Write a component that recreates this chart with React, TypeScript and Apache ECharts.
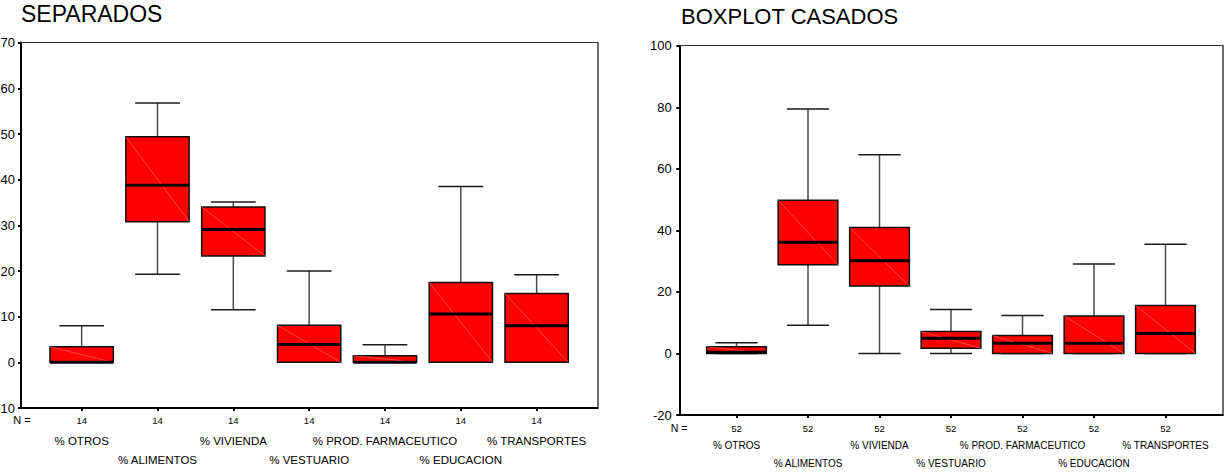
import { useEffect, useRef } from 'react';
import * as echarts from 'echarts';

// Expense categories shown on both box plots
const categories = [
  '% OTROS',
  '% ALIMENTOS',
  '% VIVIENDA',
  '% VESTUARIO',
  '% PROD. FARMACEUTICO',
  '% EDUCACION',
  '% TRANSPORTES',
];

// Group sizes (N) per category
const countsSeparados = [14, 14, 14, 14, 14, 14, 14];
const countsCasados = [52, 52, 52, 52, 52, 52, 52];

// SEPARADOS: five-number summaries
const sepMin = [0, 19.3, 11.5, 0, 0, 0, 0];
const sepQ1 = [0, 30.8, 23.3, 0, 0, 0, 0];
const sepMedian = [0, 38.8, 29.1, 3.9, 0, 10.6, 8.0];
const sepQ3 = [3.4, 49.4, 34.0, 8.1, 1.45, 17.5, 15.1];
const sepMax = [8.0, 56.8, 35.1, 20.0, 3.85, 38.5, 19.2];

// CASADOS: five-number summaries
const casMin = [0, 9.2, 0, 0, 0, 0, 0];
const casQ1 = [0, 28.8, 21.9, 1.7, 0, 0, 0];
const casMedian = [0.4, 36.1, 30.1, 4.9, 3.3, 3.3, 6.5];
const casQ3 = [2.2, 49.8, 40.9, 7.1, 5.8, 12.2, 15.6];
const casMax = [3.5, 79.4, 64.6, 14.3, 12.3, 29.1, 35.5];

// Value-axis tick settings
const sepYMin = -10;
const sepYMax = 70;
const sepYStep = 10;
const casYMin = -20;
const casYMax = 100;
const casYStep = 20;

const X_MIN = -0.8;
const X_MAX = 6.8;
const BOX_WIDTH = 0.835;
const CAP_WIDTH = 0.59;
const FONT = '"Liberation Sans", Arial, sans-serif';

const indices = categories.map((_, i) => i);
const evenIdx = indices.filter((i) => i % 2 === 0);
const oddIdx = indices.filter((i) => i % 2 === 1);

function boxData(mins: number[], q1s: number[], meds: number[], q3s: number[], maxs: number[]) {
  return categories.map((_, i) => [i, mins[i], q1s[i], meds[i], q3s[i], maxs[i]]);
}

function renderBox(_params: any, api: any) {
  const x = api.value(0);
  const lo = api.coord([x, api.value(1)]);
  const q1 = api.coord([x, api.value(2)]);
  const med = api.coord([x, api.value(3)]);
  const q3 = api.coord([x, api.value(4)]);
  const hi = api.coord([x, api.value(5)]);
  const cx = lo[0];
  const hb = api.size([BOX_WIDTH, 0])[0] / 2;
  const hc = api.size([CAP_WIDTH, 0])[0] / 2;
  const whisker = { stroke: '#4a4a4a', lineWidth: 1.5 };
  const cap = { stroke: '#1a1a1a', lineWidth: 1.5 };
  return {
    type: 'group',
    children: [
      { type: 'line', shape: { x1: cx, y1: hi[1], x2: cx, y2: q3[1] }, style: whisker },
      { type: 'line', shape: { x1: cx, y1: lo[1], x2: cx, y2: q1[1] }, style: whisker },
      { type: 'line', shape: { x1: cx - hc, y1: hi[1], x2: cx + hc, y2: hi[1] }, style: cap },
      { type: 'line', shape: { x1: cx - hc, y1: lo[1], x2: cx + hc, y2: lo[1] }, style: cap },
      {
        type: 'rect',
        shape: { x: cx - hb, y: q3[1], width: hb * 2, height: q1[1] - q3[1] },
        style: { fill: '#ff0000', stroke: '#111111', lineWidth: 1.5 },
      },
      {
        type: 'line',
        shape: { x1: cx - hb, y1: q3[1], x2: cx + hb, y2: q1[1] },
        style: { stroke: 'rgba(255,160,160,0.75)', lineWidth: 0.6 },
      },
      {
        type: 'line',
        shape: { x1: cx - hb, y1: med[1], x2: cx + hb, y2: med[1] },
        style: { stroke: '#000000', lineWidth: 3 },
      },
    ],
  };
}

function xAxesFor(
  gridIndex: number,
  counts: number[],
  nMargin: number,
  row1Margin: number,
  row2Margin: number,
  catSize: number,
) {
  const base = {
    gridIndex,
    type: 'value',
    min: X_MIN,
    max: X_MAX,
    splitLine: { show: false },
  };
  return [
    {
      ...base,
      position: 'bottom',
      axisLine: { show: true, onZero: false, lineStyle: { color: '#000', width: 2 } },
      axisTick: { show: true, customValues: indices, length: 3, lineStyle: { color: '#000', width: 2 } },
      axisLabel: {
        customValues: indices,
        formatter: (v: number) => String(counts[Math.round(v)]),
        margin: nMargin,
        fontSize: 9.5,
        color: '#000',
        fontFamily: FONT,
      },
    },
    {
      ...base,
      position: 'bottom',
      axisLine: { show: false, onZero: false },
      axisTick: { show: false },
      axisLabel: {
        customValues: evenIdx,
        formatter: (v: number) => categories[Math.round(v)],
        margin: row1Margin,
        fontSize: catSize,
        color: '#000',
        fontFamily: FONT,
      },
    },
    {
      ...base,
      position: 'bottom',
      axisLine: { show: false, onZero: false },
      axisTick: { show: false },
      axisLabel: {
        customValues: oddIdx,
        formatter: (v: number) => categories[Math.round(v)],
        margin: row2Margin,
        fontSize: catSize,
        color: '#000',
        fontFamily: FONT,
      },
    },
    {
      ...base,
      position: 'top',
      axisLine: { show: true, onZero: false, lineStyle: { color: '#333', width: 1 } },
      axisTick: { show: false },
      axisLabel: { show: false },
    },
  ];
}

function yAxesFor(gridIndex: number, min: number, max: number, interval: number, margin: number) {
  return [
    {
      gridIndex,
      type: 'value',
      min,
      max,
      interval,
      position: 'left',
      axisLine: { show: true, onZero: false, lineStyle: { color: '#000', width: 2 } },
      axisTick: { show: true, length: 3, lineStyle: { color: '#000', width: 2 } },
      axisLabel: { margin, fontSize: 13, color: '#000', fontFamily: FONT },
      splitLine: { show: false },
    },
    {
      gridIndex,
      type: 'value',
      min,
      max,
      interval,
      position: 'right',
      axisLine: { show: true, onZero: false, lineStyle: { color: '#6e6e6e', width: 2 } },
      axisTick: { show: false },
      axisLabel: { show: false },
      splitLine: { show: false },
    },
  ];
}

export default function App() {
  const ref = useRef<HTMLDivElement>(null);

  useEffect(() => {
    if (!ref.current) return;
    const chart = echarts.init(ref.current, undefined, { renderer: 'svg' });
    chart.setOption({
      animation: false,
      backgroundColor: '#ffffff',
      grid: [
        { left: 21, top: 42.7, width: 576.3, height: 365.3, containLabel: false, outerBoundsMode: 'none' },
        { left: 679.3, top: 45.7, width: 543.4, height: 369.3, containLabel: false, outerBoundsMode: 'none' },
      ],
      xAxis: [
        ...xAxesFor(0, countsSeparados, 7, 27, 46, 11.5),
        ...xAxesFor(1, countsCasados, 8, 25.5, 43, 10),
      ],
      yAxis: [
        ...yAxesFor(0, sepYMin, sepYMax, sepYStep, 6),
        ...yAxesFor(1, casYMin, casYMax, casYStep, 7.5),
      ],
      graphic: [
        {
          type: 'text',
          x: 21,
          y: 13.5,
          style: { text: 'SEPARADOS', font: `23px ${FONT}`, fill: '#000', verticalAlign: 'middle' },
        },
        {
          type: 'text',
          x: 681,
          y: 16.5,
          style: { text: 'BOXPLOT CASADOS', font: `22px ${FONT}`, fill: '#000', verticalAlign: 'middle' },
        },
        {
          type: 'text',
          x: 22,
          y: 420,
          style: { text: 'N =', font: `11px ${FONT}`, fill: '#000', align: 'center', verticalAlign: 'middle' },
        },
        {
          type: 'text',
          x: 679,
          y: 428,
          style: { text: 'N =', font: `10.5px ${FONT}`, fill: '#000', align: 'center', verticalAlign: 'middle' },
        },
      ],
      series: [
        {
          type: 'custom',
          name: 'SEPARADOS',
          xAxisIndex: 0,
          yAxisIndex: 0,
          renderItem: renderBox,
          encode: { x: 0, y: [1, 2, 3, 4, 5] },
          data: boxData(sepMin, sepQ1, sepMedian, sepQ3, sepMax),
        },
        {
          type: 'custom',
          name: 'CASADOS',
          xAxisIndex: 4,
          yAxisIndex: 2,
          renderItem: renderBox,
          encode: { x: 0, y: [1, 2, 3, 4, 5] },
          data: boxData(casMin, casQ1, casMedian, casQ3, casMax),
        },
      ],
    });
    return () => chart.dispose();
  }, []);

  return (
    <div
      ref={ref}
      style={{ position: 'absolute', left: 0, top: 0, width: 1225, height: 475 }}
    />
  );
}
